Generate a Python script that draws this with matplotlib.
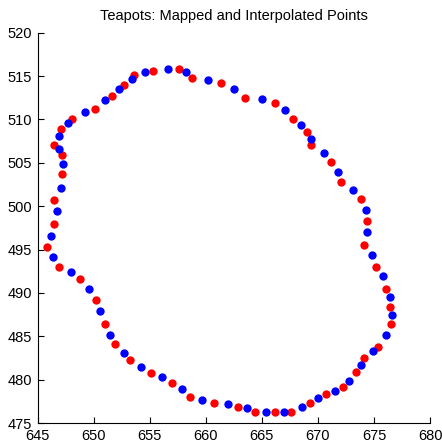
import matplotlib
matplotlib.use("Agg")
import matplotlib.pyplot as plt

plt.rcParams['font.family'] = ['Liberation Sans', 'DejaVu Sans']

# mapped points (blue)
blue_x = [654.6, 656.6, 658.2, 660.2, 662.5, 665.0, 667.1, 668.5, 669.4, 670.5,
          671.8, 673.1, 674.3, 674.4, 674.8, 675.8, 676.4, 676.6, 676.1, 674.9,
          673.8, 672.8, 671.5, 670.0, 668.6, 667.0, 665.4, 663.7, 662.0, 659.7,
          657.9, 656.1, 654.2, 652.7, 651.5, 650.6, 649.6, 648.0, 646.4, 646.2,
          646.7, 647.1, 647.3, 646.9, 646.9, 647.7, 649.2, 651.0, 652.3, 653.4]
blue_y = [515.5, 515.8, 515.5, 514.5, 513.5, 512.4, 511.1, 509.4, 507.8, 506.1,
          504.0, 501.9, 499.6, 497.0, 494.4, 491.9, 489.5, 487.5, 485.2, 483.3,
          481.7, 479.9, 478.7, 477.9, 476.8, 476.3, 476.3, 476.7, 477.2, 477.7,
          478.9, 480.3, 481.5, 483.1, 485.2, 487.9, 490.5, 492.4, 494.2, 496.6,
          499.4, 502.1, 504.9, 506.6, 508.1, 509.6, 510.9, 512.2, 513.5, 514.7]

# interpolated points (red)
red_x = [655.3, 657.6, 658.8, 661.4, 663.5, 666.2, 667.8, 669.0, 669.4, 671.2,
         672.1, 673.8, 674.4, 674.1, 675.2, 676.1, 676.4, 676.5, 675.4, 674.1,
         673.4, 672.2, 670.7, 669.3, 667.6, 666.2, 664.4, 662.9, 660.7, 658.6,
         657.0, 655.1, 653.2, 651.9, 651.0, 650.2, 648.8, 646.9, 645.8, 646.5,
         646.5, 647.2, 647.2, 646.5, 647.1, 648.1, 650.1, 651.6, 652.7, 653.6]
red_y = [515.6, 515.8, 514.8, 514.2, 512.5, 511.9, 510.0, 508.5, 507.0, 505.1,
         502.8, 500.8, 498.3, 495.5, 493.0, 490.4, 488.4, 486.4, 483.8, 482.5,
         480.9, 479.1, 478.3, 477.3, 476.3, 476.3, 476.3, 476.9, 477.3, 478.0,
         479.6, 480.8, 482.3, 484.1, 486.4, 489.2, 491.6, 493.0, 495.3, 497.9,
         500.7, 503.7, 505.9, 507.0, 508.9, 510.0, 511.2, 512.7, 514.0, 515.1]

fig = plt.figure(figsize=(4.42, 4.45), dpi=100)
ax = fig.add_axes([0.085, 0.0494, 0.888, 0.877])

ax.plot(red_x, red_y, 'o', color='#ff0000', markersize=6, markeredgewidth=0)
ax.plot(blue_x, blue_y, 'o', color='#0000ff', markersize=6, markeredgewidth=0)

ax.set_xlim(645, 680)
ax.set_ylim(475, 520)
ax.set_xticks(range(645, 681, 5))
ax.set_yticks(range(475, 521, 5))
ax.spines['top'].set_visible(False)
ax.spines['right'].set_visible(False)
ax.tick_params(direction='in', length=4, labelsize=10.5)
ax.tick_params(axis='x', pad=4)
ax.tick_params(axis='y', pad=4)
ax.set_title('Teapots: Mapped and Interpolated Points', fontsize=10.5, pad=9)

plt.savefig('out.png', dpi=100)
